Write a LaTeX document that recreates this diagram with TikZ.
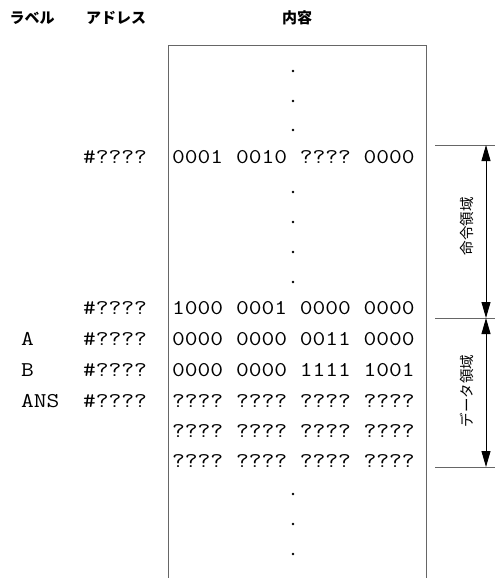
\documentclass[tikz,border=0pt]{standalone}
\usepackage{fontspec}
\setmonofont[FakeStretch=1.18]{Latin Modern Mono}
\newfontfamily\jpfont{Noto Sans CJK JP}
\usetikzlibrary{arrows.meta}
\begin{document}
\begin{tikzpicture}[x=1pt,y=-1pt,
  head/.style={font=\jpfont\bfseries\fontsize{15}{15}\selectfont, inner sep=0pt},
  side/.style={font=\jpfont\fontsize{14.5}{14.5}\selectfont, inner sep=0pt, rotate=90},
  word/.style={font=\ttfamily\fontsize{21}{21}\selectfont, inner sep=0pt},
  lbl/.style={word, anchor=west},
  addr/.style={word},
  cell/.style={word, anchor=west},
  vdot/.style={circle, fill=black, inner sep=0pt, minimum size=2.6pt},
  frame/.style={draw=black!60, line width=0.9pt},
  boundary/.style={draw=black!60, line width=0.9pt},
  span/.style={line width=0.9pt, {Triangle[width=9pt,length=16pt]}-{Triangle[width=9pt,length=16pt]}}]
\useasboundingbox (0,0) rectangle (495,578);

% column headings
\node[head] (hlabel) at (32,18) {ラベル};
\node[head] (haddr) at (116,18) {アドレス};
\node[head] (hbody) at (297,18) {内容};

% memory frame, open at the bottom
\draw[frame] (168,578) -- (168,45) -- (426,45) -- (426,578);

% elided words above the code
\node[vdot] (d1) at (293,71) {};
\node[vdot] (d2) at (293,101) {};
\node[vdot] (d3) at (293,130) {};

% first instruction
\node[addr] (a1) at (115,157) {\#????};
\node[cell] (c1) at (172,157) {0001 0010 ???? 0000};

\node[vdot] (d4) at (293,192) {};
\node[vdot] (d5) at (293,222) {};
\node[vdot] (d6) at (293,252) {};
\node[vdot] (d7) at (293,282) {};

% last instruction
\node[addr] (a2) at (115,308) {\#????};
\node[cell] (c2) at (172,308) {1000 0001 0000 0000};

% data words
\node[lbl] (lA) at (21,339) {A};
\node[addr] (a3) at (115,339) {\#????};
\node[cell] (c3) at (172,339) {0000 0000 0011 0000};

\node[lbl] (lB) at (21,370) {B};
\node[addr] (a4) at (115,370) {\#????};
\node[cell] (c4) at (172,370) {0000 0000 1111 1001};

\node[lbl] (lC) at (21,401) {ANS};
\node[addr] (a5) at (115,401) {\#????};
\node[cell] (c5) at (172,401) {???? ???? ???? ????};
\node[cell] (c6) at (172,431) {???? ???? ???? ????};
\node[cell] (c7) at (172,461) {???? ???? ???? ????};

% elided words below the data
\node[vdot] (d8) at (293,494) {};
\node[vdot] (d9) at (293,524) {};
\node[vdot] (d10) at (293,554) {};

% region boundaries
\coordinate (m1l) at (435,145);
\coordinate (m1r) at (495,145);
\coordinate (m2l) at (435,318);
\coordinate (m2r) at (495,318);
\coordinate (m3l) at (435,467);
\coordinate (m3r) at (495,467);
\draw[boundary] (m1l) -- (m1r);
\draw[boundary] (m2l) -- (m2r);
\draw[boundary] (m3l) -- (m3r);

\coordinate (p1) at (486,145);
\coordinate (p2) at (486,318);
\coordinate (p3) at (486,467);
\draw[span] (p1) -- (p2);
\draw[span] (p2) -- (p3);

\node[side] (rcode) at (467,226) {命令領域};
\node[side] (rdata) at (467,391) {データ領域};
\end{tikzpicture}
\end{document}
